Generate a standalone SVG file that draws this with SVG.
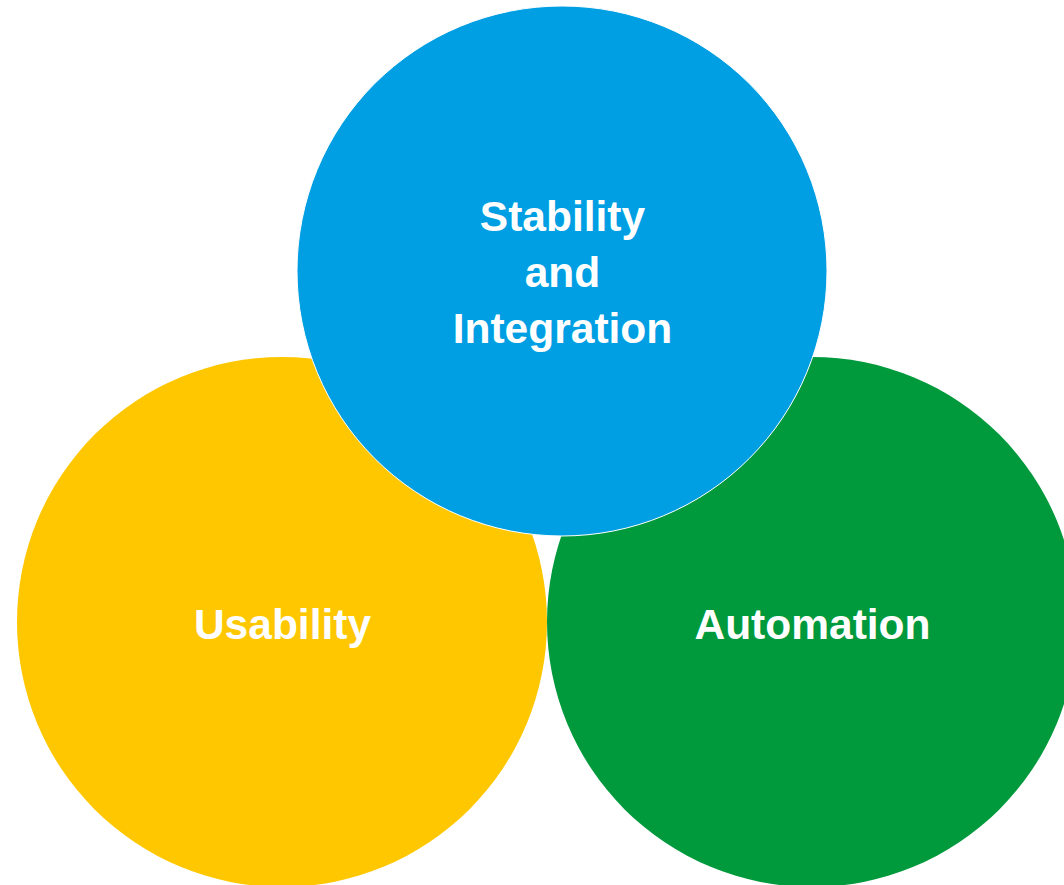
<svg xmlns="http://www.w3.org/2000/svg" width="1064" height="885" viewBox="0 0 1064 885">
<style>
.lbl{font-family:"Liberation Sans",Arial,sans-serif;font-weight:bold;font-size:42.5px;fill:#FFFFFF;text-anchor:middle}
</style>
<rect width="1064" height="885" fill="#FFFFFF"/>
<g id="connectors"></g>
<g id="usability">
<circle cx="282" cy="622" r="265" fill="#FFC700"/>
<text class="lbl" x="282.5" y="639">Usability</text>
</g>
<g id="automation">
<circle cx="812" cy="622" r="265" fill="#009A3D"/>
<text class="lbl" x="812.5" y="639">Automation</text>
</g>
<g id="stability">
<circle cx="562" cy="271" r="265" fill="#009FE3" stroke="#FFFFFF" stroke-width="1"/>
<text class="lbl" x="562.5" y="231">Stability</text>
<text class="lbl" x="562.5" y="287">and</text>
<text class="lbl" x="562.5" y="343">Integration</text>
</g>
</svg>
